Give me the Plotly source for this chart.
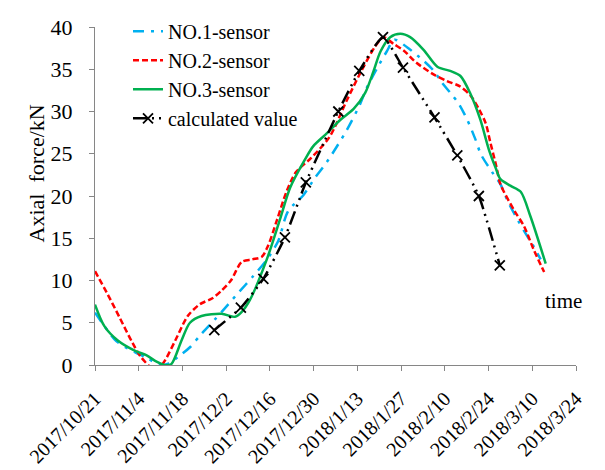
import pandas as pd
import plotly.graph_objects as go

# ---------------- data (day offsets from 2017/10/21, values in kN) ----------------
start_date = "2017-10-21"

no1_days = [0, 3, 6.9, 12.9, 16.8, 20.8, 23.7, 26.6, 30.4, 34.1, 38.4, 42.6, 45.3, 50.6, 54.9,
            58.7, 61.8, 66.7, 70.5, 74.2, 80.6, 84.9, 87.0, 90.3, 93.4, 95.9, 99.9, 105.2, 108.5,
            111.1, 113.8, 116.5, 119.2, 121.8, 123.6, 127.2, 129.8, 132.0, 135.3, 137.8, 140.0, 142.7]
no1_vals = [6.2, 4.6, 2.8, 1.5, 0.8, 0.0, 0.2, 0.96, 2.1, 3.7, 5.4, 7.15, 8.3, 10.5, 12.4, 14.7, 18.2,
            20.1, 22.2, 24.0, 27.8, 30.9, 32.8, 35.1, 37.1, 38.5, 37.6, 36.0, 34.8, 33.4, 32.2,
            30.9, 29.0, 26.7, 24.9, 22.8, 21.4, 19.5, 17.2, 15.6, 14.3, 12.5]

no2_days = [0, 4, 7.9, 11.9, 14.8, 19.3, 21.8, 25.7, 29.7, 33.6, 37.6, 40.5, 43.5, 47.0, 50.4,
            53.4, 55.4, 58.3, 61.3, 64.3, 69.2, 75.1, 80.6, 85.0, 89.7, 92.4, 95.6, 98.9, 102.8,
            108.8, 112.7, 116.7, 120.2, 122.9, 125.1, 126.6, 128.5, 129.8, 134.2, 137.4, 140.4, 143.8]
no2_vals = [11.1, 8.4, 5.6, 2.7, 0.9, -0.6, 0.2, 2.9, 5.8, 7.2, 7.9, 8.8, 10.0, 12.2, 12.5, 12.8,
            14.1, 17.2, 20.5, 22.8, 24.5, 27.0, 31.3, 34.6, 37.7, 38.8, 38.0, 37.2, 35.8, 34.3,
            33.6, 33.0, 31.9, 30.3, 28.6, 26.3, 23.5, 21.4, 18.3, 16.4, 13.7, 11.0]

no3_days = [0, 3, 7.3, 12.7, 16.4, 19.7, 22.3, 24.4, 27.7, 30.4, 34.1, 40.5, 44.8, 47.0, 49.6,
            55.0, 59.2, 62.5, 67.2, 69.9, 74.2, 78.5, 82.8, 86.5, 89.2, 91.4, 94.5, 97.8, 100.9,
            105.2, 109.6, 113.7, 117.0, 120.2, 123.4, 126.1, 128.2, 129.8, 133.1, 136.3, 139.4, 144.3]
no3_vals = [7.15, 4.6, 2.9, 1.7, 1.16, 0.4, 0.0, 0.1, 2.9, 5.0, 5.8, 6.06, 5.7, 6.3, 7.7, 12.5,
            17.2, 21.0, 24.3, 25.9, 27.4, 29.0, 30.3, 32.2, 34.8, 37.1, 38.8, 39.2, 38.8, 37.3,
            35.3, 34.8, 34.2, 32.1, 29.0, 25.5, 23.4, 22.0, 21.2, 20.5, 17.6, 12.0]

calc_days = [38.2, 46.7, 53.9, 60.8, 67.5, 77.9, 84.6, 92.2, 98.6, 108.7, 116.0, 122.9, 129.6]
calc_vals = [4.13, 6.8, 10.2, 15.1, 21.6, 30.0, 34.8, 38.8, 35.2, 29.3, 24.8, 20.0, 11.8]

tick_labels = ["2017/10/21", "2017/11/4", "2017/11/18", "2017/12/2", "2017/12/16",
               "2017/12/30", "2018/1/13", "2018/1/27", "2018/2/10", "2018/2/24",
               "2018/3/10", "2018/3/24"]

series_names = ["NO.1-sensor", "NO.2-sensor", "NO.3-sensor", "calculated value"]

# ---------------- helpers ----------------
base = pd.Timestamp(start_date)


def to_dates(days):
    return [base + pd.Timedelta(days=float(d)) for d in days]


tick_vals = list(pd.to_datetime(tick_labels, format="%Y/%m/%d"))

FONT = "Liberation Serif"
AX = "#868686"

fig = go.Figure()
fig.add_trace(go.Scatter(x=to_dates(no1_days), y=no1_vals, mode="lines", name=series_names[0],
                         line=dict(color="#00B0F0", width=2.5, dash="11px,7px,3px,7px",
                                   shape="spline", smoothing=0.8)))
fig.add_trace(go.Scatter(x=to_dates(no2_days), y=no2_vals, mode="lines", name=series_names[1],
                         line=dict(color="#FF0000", width=2.5, dash="6px,3px",
                                   shape="spline", smoothing=0.8)))
fig.add_trace(go.Scatter(x=to_dates(no3_days), y=no3_vals, mode="lines", name=series_names[2],
                         line=dict(color="#00B050", width=2.5, shape="spline", smoothing=0.8)))
fig.add_trace(go.Scatter(x=to_dates(calc_days), y=calc_vals, mode="lines+markers", name=series_names[3],
                         line=dict(color="#000000", width=2.5, dash="14px,5px,2px,5px,2px,5px",
                                   shape="spline", smoothing=0.5),
                         marker=dict(symbol="x-thin", size=10, line=dict(color="#000000", width=1.8))))

fig.update_layout(
    width=605, height=470,
    margin=dict(l=95, r=29, t=20, b=105),
    paper_bgcolor="white", plot_bgcolor="white",
    font=dict(family=FONT, size=22, color="black"),
    showlegend=True,
    legend=dict(x=0.0686, y=1.045, xanchor="left", yanchor="top", bgcolor="rgba(0,0,0,0)",
                font=dict(family=FONT, size=20, color="black"), tracegroupgap=0,
                itemwidth=30),
    xaxis=dict(type="date", range=[tick_vals[0], tick_vals[-1]], tickmode="array",
               tickvals=tick_vals, ticktext=tick_labels, tickangle=-45,
               showline=True, linecolor=AX, linewidth=1, ticks="outside", ticklen=5,
               tickcolor=AX, showgrid=False, zeroline=False, automargin=False,
               ticklabelstandoff=8,
               tickfont=dict(family=FONT, size=20, color="black")),
    yaxis=dict(range=[0, 40], dtick=5, tick0=0, showline=True, linecolor=AX, linewidth=1,
               ticks="outside", ticklen=5, tickcolor=AX, showgrid=False, zeroline=False,
               automargin=False, ticklabelstandoff=12,
               tickfont=dict(family=FONT, size=22, color="black")),
    annotations=[
        dict(text="Axial  force/kN", xref="paper", yref="paper", x=-0.152, y=0.568,
             textangle=-90, showarrow=False, font=dict(family=FONT, size=22, color="black")),
        dict(text="time", xref="paper", yref="paper", x=1.017, y=0.148,
             showarrow=False, font=dict(family=FONT, size=21, color="black")),
    ],
)

fig.write_html("out.html")
